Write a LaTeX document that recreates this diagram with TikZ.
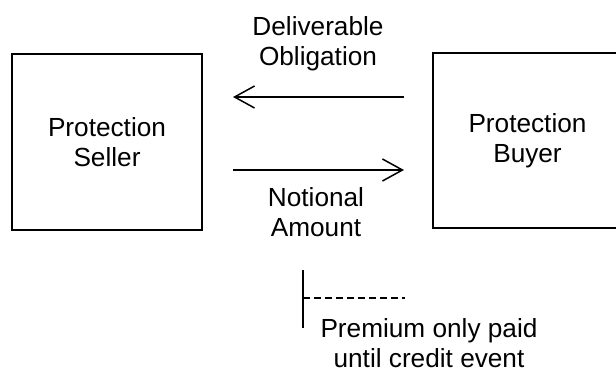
\documentclass[tikz,border=0pt]{standalone}
\usepackage{fontspec}
\setmainfont{Liberation Sans}
\usetikzlibrary{arrows.meta, positioning, calc}

\begin{document}
\begin{tikzpicture}[x=0.5pt, y=-0.5pt,
    party/.style={draw, line width=1pt, minimum width=95pt, minimum height=88pt,
                  inner sep=0pt, align=center, font=\fontsize{13.1}{15}\selectfont},
    label/.style={inner sep=0pt, align=center, anchor=north,
                  font=\fontsize{13.1}{15}\selectfont},
    flow/.style={line width=0.75pt, {Straight Barb[length=10pt, width=11pt, line width=0.75pt]}-}]
    \useasboundingbox (0,0) rectangle (616,371);
    \node[party] (seller) at (107, 142) {Protection\\Seller};
    \node[party, minimum width=94.5pt, minimum height=87.5pt]
      (buyer) at (527.5, 140.5) {Protection\\Buyer};
    \node[label] (deliv) at (318, 16) {Deliverable\\Obligation};
    \node[label] (notional) at (316, 187) {Notional\\Amount};
    \node[label] (premium) at (429, 318) {Premium only paid\\until credit event};
    \draw[flow, shorten <=15pt, shorten >=14pt]
      ([yshift=21.75pt]buyer.west -| seller.east) -- ([yshift=21.75pt]buyer.west);
    \draw[flow, shorten <=14pt, shorten >=15pt]
      ([yshift=-14.75pt]buyer.west) -- ([yshift=-14.75pt]buyer.west -| seller.east);
    % premium period marker
    \draw[line width=0.75pt] (303, 270) -- (303, 328);
    \draw[line width=0.75pt, dash pattern=on 3.5pt off 2pt] (303, 298) -- (405, 298);
  \end{tikzpicture}
\end{document}
